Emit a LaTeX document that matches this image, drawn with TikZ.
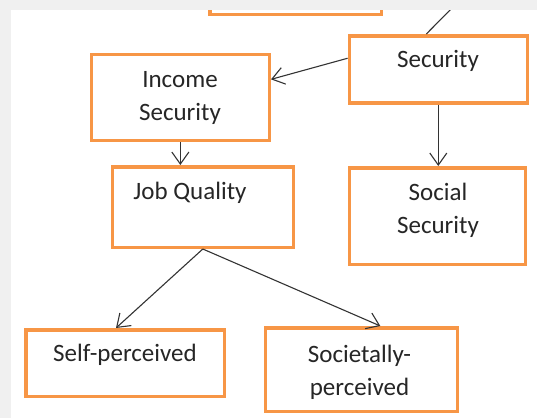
\documentclass[tikz,border=0pt]{standalone}
\usepackage{fontspec}
\setmainfont{Carlito}
\usetikzlibrary{arrows.meta,calc}
\definecolor{boxorange}{HTML}{F79646}
\definecolor{linegray}{HTML}{333333}
\definecolor{pagegray}{HTML}{F0F0F0}
\begin{document}
\begin{tikzpicture}[x=1pt,y=-1pt,
  box/.style={draw=boxorange,line width=3.5pt,fill=white,rectangle,inner sep=0pt},
  lbl/.style={font=\fontsize{25}{33}\selectfont,text=black!85,align=center,anchor=base,inner sep=0pt},
  conn/.style={draw=linegray,line width=1.1pt,-{Straight Barb[length=12pt,width=17pt,line width=1.1pt]}},
  plain/.style={draw=linegray,line width=1.1pt}]
\useasboundingbox (0,0) rectangle (537,418);
\fill[pagegray] (0,0) rectangle (537,418);
\fill[white] (11,10) rectangle (537,418);
\begin{scope}
\clip (11,10) rectangle (537,418);
% boxes
\node[box,minimum width=171.5pt,minimum height=62.5pt] (top) at (295.5,-17) {};
\node[box,minimum width=177.9pt,minimum height=67pt] (sec) at (438.3,69.25) {};
\node[box,minimum width=177.8pt,minimum height=85.8pt] (inc) at (180.35,97.35) {};
\node[box,minimum width=180.9pt,minimum height=80.5pt] (job) at (202.8,207) {};
\node[box,minimum width=176.3pt,minimum height=96.5pt] (soc) at (437.5,216) {};
\node[box,minimum width=198.5pt,minimum height=66.5pt] (self) at (125,363) {};
\node[box,minimum width=191.8pt,minimum height=83.5pt] (socp) at (361.35,369.5) {};
% texts (base anchor = baseline of last line)
\node[lbl] (tsec) at (438,67.5) {Security};
\node[lbl] (tinc) at (180,120.5) {Income\\Security};
\node[lbl] (tjob) at (190,199) {Job Quality};
\node[lbl] (tsoc) at (438,233) {Social\\Security};
\node[lbl] (tself) at (125,361) {Self-perceived};
\node[lbl] (tsocp) at (359.5,395) {Societally-\\perceived};
% connectors
\coordinate (topend) at (452,8);
\draw[plain] (topend) -- ($(sec.north)+(-12,0)$);
\draw[conn] ($(sec.west)+(0,-11)$) -- ($(inc.east)+(0,-18)$);
\draw[conn] (inc.south) -- (inc.south |- job.north);
\draw[conn] (sec.south) -- (sec.south |- soc.north);
\draw[conn] (job.south) -- ($(self.north)+(-9,0)$);
\draw[conn] (job.south) -- ($(socp.north)+(19,0)$);
\end{scope}
\end{tikzpicture}
\end{document}
